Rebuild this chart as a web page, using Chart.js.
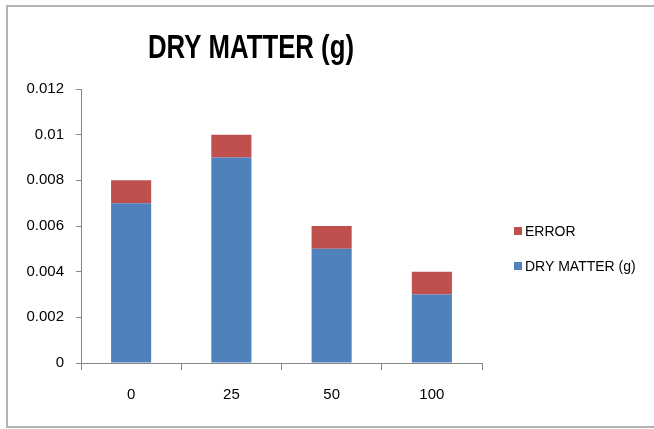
<!DOCTYPE html>
<html>
<head>
<meta charset="utf-8">
<script src="https://cdn.jsdelivr.net/npm/chart.js@4.4.1/dist/chart.umd.min.js"></script>
<style>
  html, body { margin: 0; padding: 0; background: #ffffff; }
  #wrap { width: 654px; height: 429px; position: relative; }
</style>
</head>
<body>
<div id="wrap"><canvas id="c" width="654" height="429"></canvas></div>
<script>
// Treatment levels on the x axis
const categories = ['0', '25', '50', '100'];
// Dry matter per treatment (g)
const dryMatter = [0.007, 0.009, 0.005, 0.003];
// Error stacked on top of each bar
const errorValues = [0.001, 0.001, 0.001, 0.001];
// Y axis tick values
const yTicks = [0, 0.002, 0.004, 0.006, 0.008, 0.01, 0.012];

const BLUE = '#4F81BD';
const RED = '#C0504D';
const FONT = "'Liberation Sans', Arial, sans-serif";

// Frame, title and side legend drawn on the canvas
const decorations = {
  id: 'decorations',
  beforeDraw(chart) {
    const ctx = chart.ctx;
    ctx.save();
    ctx.fillStyle = '#ffffff';
    ctx.fillRect(0, 0, chart.width, chart.height);
    // frame runs past the right edge of the canvas
    ctx.strokeStyle = '#b3b3b3';
    ctx.lineWidth = 2;
    ctx.beginPath();
    ctx.moveTo(chart.width + 2, 6);
    ctx.lineTo(7, 6);
    ctx.lineTo(7, 427);
    ctx.lineTo(chart.width + 2, 427);
    ctx.stroke();
    ctx.restore();
  },
  afterDraw(chart) {
    const ctx = chart.ctx;
    ctx.save();
    // tall, narrow title: condense the bold face to its box width
    const title = 'DRY MATTER (g)';
    ctx.font = "bold 33px " + FONT;
    ctx.textAlign = 'left';
    ctx.textBaseline = 'alphabetic';
    const w = ctx.measureText(title).width;
    const targetW = 206;
    ctx.translate(148, 58);
    ctx.scale(targetW / w, 1);
    ctx.fillStyle = '#000000';
    ctx.fillText(title, 0, 0);
    ctx.restore();

    // legend lists the top stack first
    ctx.save();
    const items = chart.data.datasets.slice().reverse();
    ctx.font = "14px " + FONT;
    ctx.textAlign = 'left';
    ctx.textBaseline = 'middle';
    items.forEach((ds, i) => {
      const y = 231 + i * 35;
      ctx.fillStyle = ds.backgroundColor;
      ctx.fillRect(514, y - 4, 8, 8);
      ctx.fillStyle = '#000000';
      ctx.fillText(ds.label, 525, y + 1);
    });
    ctx.restore();
  }
};

new Chart(document.getElementById('c'), {
  type: 'bar',
  data: {
    labels: categories,
    datasets: [
      { label: 'DRY MATTER (g)', data: dryMatter, backgroundColor: BLUE,
        categoryPercentage: 1.0, barPercentage: 0.4 },
      { label: 'ERROR', data: errorValues, backgroundColor: RED,
        categoryPercentage: 1.0, barPercentage: 0.4 }
    ]
  },
  options: {
    responsive: false,
    animation: false,
    devicePixelRatio: 1,
    layout: { padding: { top: 89, right: 172, bottom: 0, left: 0 } },
    plugins: {
      legend: { display: false },
      title: { display: false },
      tooltip: { enabled: false }
    },
    scales: {
      x: {
        stacked: true,
        border: { display: true, color: '#868686', width: 1 },
        grid: { display: true, drawOnChartArea: false, drawTicks: true, tickLength: 7, color: '#868686', offset: true },
        ticks: { color: '#000000', font: { family: FONT, size: 15 }, padding: 16 },
        afterFit(scale) { scale.height = 66; }
      },
      y: {
        stacked: true,
        min: 0,
        max: 0.012,
        afterBuildTicks(scale) { scale.ticks = yTicks.map(v => ({ value: v })); },
        border: { display: true, color: '#868686', width: 1 },
        grid: { display: true, drawOnChartArea: false, drawTicks: true, tickLength: 5, color: '#868686' },
        ticks: {
          color: '#000000',
          font: { family: FONT, size: 15 },
          padding: 12,
          callback: (v) => String(Number(v.toFixed(3)))
        },
        afterFit(scale) { scale.width = 81; }
      }
    }
  },
  plugins: [decorations]
});
</script>
</body>
</html>
